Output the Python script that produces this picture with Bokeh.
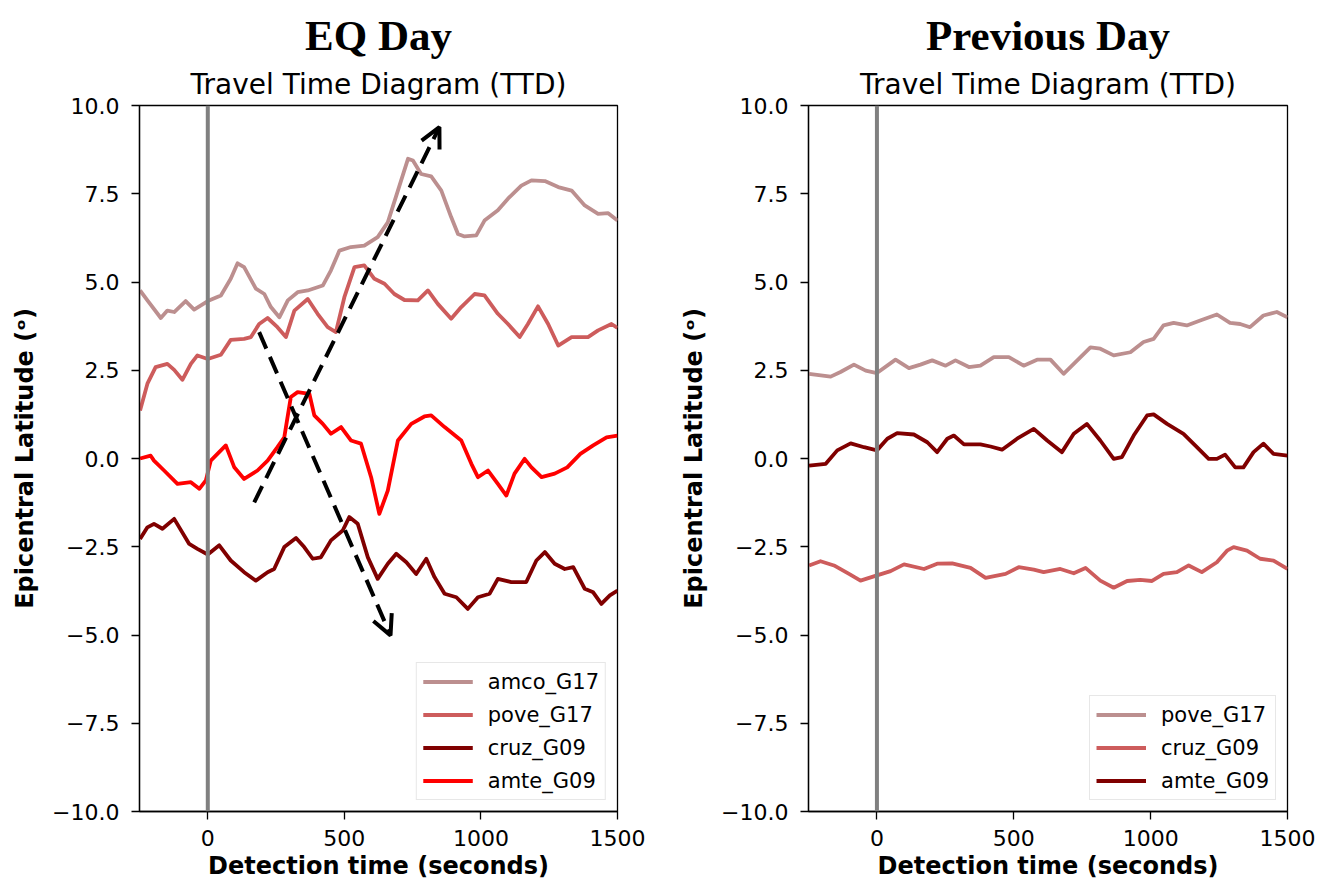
from bokeh.plotting import figure
from bokeh.layouts import row
from bokeh.models import (Span, Arrow, OpenHead, Legend, LegendItem, Title,
                          FixedTicker, CustomJSTickFormatter)
from bokeh.embed import file_html
from bokeh.resources import INLINE

# ---------------- data: EQ Day ----------------
eq_amco_t = [-248, -221, -172, -148, -123, -81, -50, 0, 48, 84, 109, 133, 176, 207, 231, 262, 293, 329, 366, 421,
             451, 482, 524, 573, 622, 659, 696, 733, 751, 781, 818, 855, 891, 916, 940, 983, 1013, 1062, 1099, 1148,
             1185, 1234, 1283, 1332, 1380, 1429, 1466, 1500]
eq_amco_y = [4.76, 4.48, 3.98, 4.19, 4.15, 4.46, 4.22, 4.46, 4.62, 5.09, 5.53, 5.42, 4.81, 4.66, 4.29, 4.00, 4.48, 4.71, 4.76, 4.90,
             5.33, 5.89, 5.99, 6.03, 6.27, 6.69, 7.59, 8.49, 8.44, 8.06, 7.99, 7.59, 6.84, 6.36, 6.29, 6.32, 6.74, 7.03, 7.36, 7.73,
             7.88, 7.86, 7.69, 7.59, 7.17, 6.93, 6.95, 6.74]

eq_pove_t = [-248, -221, -191, -148, -123, -93, -62, -38, 0, 48, 84, 133, 158, 188, 219, 255, 286, 317, 366, 402,
             439, 469, 500, 537, 573, 610, 647, 683, 720, 769, 806, 842, 891, 928, 977, 1013, 1062, 1099, 1142, 1172,
             1209, 1246, 1283, 1332, 1392, 1429, 1478, 1500]
eq_pove_y = [1.36, 2.12, 2.59, 2.68, 2.51, 2.23, 2.68, 2.92, 2.82, 2.94, 3.36, 3.39, 3.44, 3.81, 3.98, 3.72, 3.44, 4.19, 4.52, 4.10,
             3.72, 3.58, 4.57, 5.42, 5.47, 5.09, 4.95, 4.66, 4.49, 4.48, 4.76, 4.38, 3.96, 4.29, 4.66, 4.62, 4.10, 3.81, 3.44, 3.81,
             4.31, 3.81, 3.20, 3.44, 3.44, 3.63, 3.81, 3.70]

eq_cruz_t = [-248, -221, -197, -166, -123, -68, -38, 0, 42, 84, 133, 176, 219, 243, 280, 323, 353, 384, 414, 451,
             494, 518, 549, 586, 622, 659, 690, 727, 763, 800, 830, 867, 910, 952, 989, 1032, 1062, 1111, 1166, 1203,
             1234, 1270, 1307, 1338, 1380, 1411, 1441, 1472, 1500]
eq_cruz_y = [-2.28, -1.95, -1.85, -1.99, -1.71, -2.42, -2.56, -2.72, -2.46, -2.89, -3.22, -3.46, -3.22, -3.13, -2.51, -2.25, -2.51, -2.84, -2.80, -2.32,
             -2.04, -1.66, -1.85, -2.80, -3.41, -2.98, -2.70, -2.94, -3.27, -2.84, -3.36, -3.83, -3.93, -4.26, -3.93, -3.83, -3.41, -3.50, -3.50, -2.89,
             -2.65, -2.98, -3.13, -3.08, -3.69, -3.79, -4.12, -3.88, -3.74]

eq_amte_t = [-248, -209, -197, -160, -111, -62, -31, -7, 11, 66, 97, 133, 182, 219, 255, 280, 304, 329, 372, 390,
             421, 451, 488, 524, 561, 598, 628, 659, 696, 745, 793, 818, 867, 928, 965, 989, 1026, 1062, 1093, 1123,
             1160, 1185, 1222, 1270, 1316, 1364, 1411, 1460, 1500]
eq_amte_y = [0.00, 0.08, -0.06, -0.34, -0.72, -0.67, -0.86, -0.62, -0.06, 0.37, -0.25, -0.58, -0.34, -0.06, 0.32, 0.60, 1.74, 1.88, 1.83, 1.22,
             0.98, 0.70, 0.89, 0.51, 0.42, -0.53, -1.57, -0.91, 0.51, 0.98, 1.19, 1.22, 0.89, 0.51, -0.15, -0.53, -0.34, -0.72, -1.05, -0.43,
             -0.01, -0.25, -0.53, -0.43, -0.25, 0.13, 0.37, 0.60, 0.65]

# dashed arrows (start/end points in data units)
arrow_x_start = [170, 188]
arrow_y_start = [-1.24, 3.58]
arrow_x_end = [848, 669]
arrow_y_end = [9.39, -5.01]

# ---------------- data: Previous Day ----------------
pd_pove_t = [-248, -169, -133, -84, -41, 0, 68, 117, 159, 202, 251, 287, 336, 378, 427, 482, 536, 585, 634, 682,
             719, 780, 816, 865, 926, 974, 1011, 1047, 1084, 1132, 1181, 1242, 1290, 1327, 1363, 1412, 1461, 1500]
pd_pove_y = [2.40, 2.32, 2.45, 2.66, 2.49, 2.42, 2.80, 2.56, 2.66, 2.78, 2.63, 2.78, 2.59, 2.63, 2.87, 2.87, 2.63, 2.80, 2.80, 2.40,
             2.68, 3.15, 3.11, 2.92, 3.01, 3.30, 3.39, 3.77, 3.84, 3.77, 3.91, 4.08, 3.84, 3.81, 3.72, 4.05, 4.15, 4.00]

pd_amte_t = [-248, -187, -145, -96, -47, 0, 38, 74, 135, 184, 220, 257, 281, 318, 378, 415, 457, 512, 573, 622,
             676, 719, 767, 816, 865, 895, 938, 987, 1011, 1060, 1120, 1169, 1212, 1242, 1272, 1309, 1339, 1376, 1412, 1449, 1500]
pd_amte_y = [-0.20, -0.15, 0.23, 0.43, 0.32, 0.23, 0.56, 0.72, 0.68, 0.46, 0.18, 0.56, 0.65, 0.40, 0.40, 0.34, 0.25, 0.56, 0.84, 0.51,
             0.18, 0.70, 0.98, 0.51, -0.01, 0.04, 0.65, 1.22, 1.25, 0.98, 0.70, 0.32, -0.01, -0.01, 0.11, -0.25, -0.25, 0.18, 0.42, 0.13, 0.08]

pd_cruz_t = [-248, -206, -157, -102, -60, 0, 50, 99, 172, 220, 275, 342, 397, 470, 518, 573, 609, 670, 719, 762,
             816, 865, 914, 962, 1005, 1047, 1096, 1139, 1187, 1242, 1279, 1303, 1352, 1400, 1449, 1500]
pd_cruz_y = [-3.03, -2.91, -3.03, -3.27, -3.46, -3.31, -3.19, -3.00, -3.13, -2.98, -2.97, -3.10, -3.38, -3.27, -3.08, -3.15, -3.22, -3.13, -3.25, -3.10,
             -3.46, -3.66, -3.47, -3.44, -3.47, -3.27, -3.22, -3.03, -3.22, -2.94, -2.61, -2.51, -2.61, -2.84, -2.89, -3.13]

x_ticks = [0, 500, 1000, 1500]
y_ticks = [-10, -7.5, -5, -2.5, 0, 2.5, 5, 7.5, 10]

ROSY = "#bc8f8f"
INDIAN = "#cd5c5c"
DARK = "#800000"
RED = "#ff0000"

FONT = "DejaVu Sans"


def make_panel(width, bl, br, big_title, series):
    p = figure(width=width, height=883, x_range=(-250, 1500), y_range=(-10, 10),
               output_backend="svg", toolbar_location=None,
               min_border_left=bl, min_border_right=br, min_border_top=105, min_border_bottom=72)
    p.title = None
    p.grid.grid_line_color = None
    p.outline_line_color = "black"
    p.outline_line_width = 1.3
    p.background_fill_color = "white"
    p.border_fill_color = "white"

    p.add_layout(Title(text="Travel Time Diagram (TTD)", align="center", text_font=FONT,
                       text_font_size="28px", text_font_style="normal", text_color="black",
                       standoff=10), "above")
    p.add_layout(Title(text=big_title, align="center", text_font="Liberation Serif",
                       text_font_size="43px", text_font_style="bold", text_color="black",
                       standoff=4), "above")

    for ax in (p.xaxis[0], p.yaxis[0]):
        ax.axis_line_color = "black"
        ax.axis_line_width = 1.3
        ax.major_tick_line_color = "black"
        ax.major_tick_line_width = 1.3
        ax.major_tick_out = 8
        ax.major_tick_in = 0
        ax.minor_tick_line_color = None
        ax.major_label_text_font = FONT
        ax.major_label_text_font_size = "22px"
        ax.major_label_text_color = "black"
        ax.axis_label_text_font = FONT
        ax.axis_label_text_font_size = "24px"
        ax.axis_label_text_font_style = "bold"
        ax.axis_label_text_color = "black"

    p.yaxis[0].major_label_standoff = 12
    p.yaxis[0].axis_label_standoff = 10
    p.xaxis[0].major_label_standoff = 10
    p.xaxis[0].axis_label_standoff = 3

    p.xaxis.ticker = FixedTicker(ticks=x_ticks)
    p.yaxis.ticker = FixedTicker(ticks=y_ticks)
    p.yaxis.formatter = CustomJSTickFormatter(
        code='return (tick < 0 ? "\\u2212" : "") + Math.abs(tick).toFixed(1);')
    p.xaxis.axis_label = "Detection time (seconds)"
    p.yaxis.axis_label = "Epicentral Latitude (\u1d52)"

    items = []
    for name, t, y, col in series:
        r = p.line(t, y, line_color=col, line_width=3.8, line_join="round")
        items.append(LegendItem(label=name, renderers=[r]))

    p.add_layout(Span(location=0, dimension="height", line_color="#808080", line_width=4))

    leg = Legend(items=items, location="bottom_right")
    leg.label_text_font = FONT
    leg.label_text_font_size = "21px"
    leg.label_text_color = "black"
    leg.label_height = 25
    leg.glyph_height = 25
    leg.glyph_width = 50
    leg.spacing = 8
    leg.padding = 6
    leg.margin = 11
    leg.label_standoff = 15
    leg.border_line_color = "#d0d0d0"
    leg.border_line_width = 1.2
    leg.background_fill_color = "white"
    leg.background_fill_alpha = 0.85
    p.add_layout(leg, "center")
    return p


p1 = make_panel(660, 139, 43, "EQ Day", [
    ("amco_G17", eq_amco_t, eq_amco_y, ROSY),
    ("pove_G17", eq_pove_t, eq_pove_y, INDIAN),
    ("cruz_G09", eq_cruz_t, eq_cruz_y, DARK),
    ("amte_G09", eq_amte_t, eq_amte_y, RED),
])
for xs, ys, xe, ye in zip(arrow_x_start, arrow_y_start, arrow_x_end, arrow_y_end):
    p1.add_layout(Arrow(x_start=xs, y_start=ys, x_end=xe, y_end=ye,
                        line_color="black", line_width=4, line_dash="18 9",
                        end=OpenHead(size=20, line_width=4, line_color="black")))

p2 = make_panel(658, 148, 31, "Previous Day", [
    ("pove_G17", pd_pove_t, pd_pove_y, ROSY),
    ("cruz_G09", pd_cruz_t, pd_cruz_y, INDIAN),
    ("amte_G09", pd_amte_t, pd_amte_y, DARK),
])

layout = row(p1, p2)
open("out.html", "w").write(file_html(layout, INLINE))
